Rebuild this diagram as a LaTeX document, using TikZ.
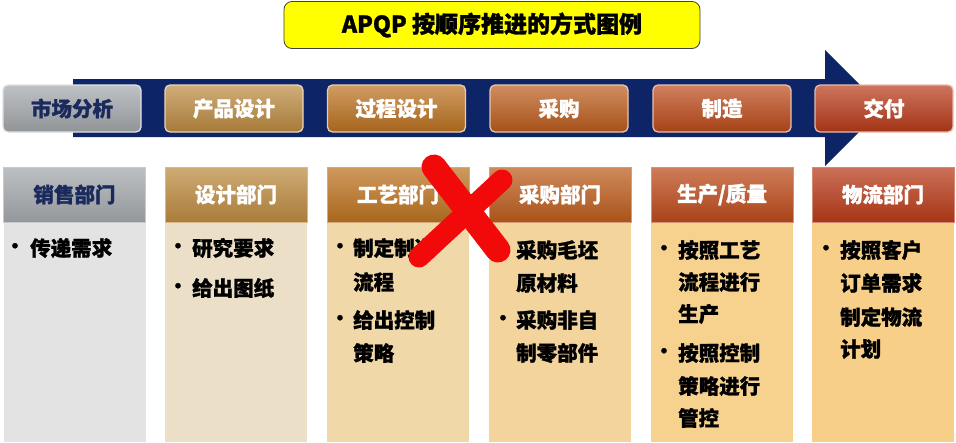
\documentclass[tikz,border=0pt]{standalone}
\usepackage{fontspec}
\setmainfont{Noto Sans CJK SC}[BoldFeatures={FakeBold=1.2}]
\definecolor{navyband}{HTML}{0D2466}
\definecolor{navytext}{HTML}{1A2A5C}
\definecolor{cgray}{HTML}{A4A8AC}
\definecolor{cgold}{HTML}{BC8A40}
\definecolor{cocher}{HTML}{BC7220}
\definecolor{corange}{HTML}{BC5C1C}
\definecolor{crust}{HTML}{BC4A1A}
\definecolor{cred}{HTML}{B83A18}
\definecolor{pgray}{HTML}{E3E3E3}
\definecolor{pbeige}{HTML}{ECDFC7}
\definecolor{psand}{HTML}{F0D8A8}
\definecolor{pwheat}{HTML}{F2D49C}
\definecolor{papricot}{HTML}{F7D18E}
\definecolor{ppeach}{HTML}{F8CF88}
\definecolor{titleyellow}{HTML}{FFFF00}
\definecolor{xred}{HTML}{F20A0A}
\tikzset{
  topbox/.style={rounded corners=5pt, draw=#1!35!white, line width=1.3pt,
    top color=#1!70!white, bottom color=#1!88!black,
    minimum width=138pt, minimum height=47pt, inner sep=0pt,
    text=white, font=\bfseries\fontsize{20.5}{24}\selectfont},
  hdrbox/.style={draw=#1!60!white, line width=0.6pt,
    top color=#1!72!white, bottom color=#1!90!black,
    minimum width=142pt, minimum height=55pt, inner sep=0pt,
    text=white, font=\bfseries\fontsize{20.5}{24}\selectfont},
  panelbox/.style={fill=#1, draw=none, minimum width=142pt, minimum height=220pt, inner sep=0pt},
  bodytext/.style={anchor=west, inner sep=0pt, text=black, font=\bfseries\fontsize{20.5}{24}\selectfont},
  bulletmark/.style={anchor=center, inner sep=0pt, text=black, font=\bfseries\fontsize{19}{20}\selectfont},
  titlebox/.style={rounded corners=8pt, draw=black!75, line width=0.8pt, fill=titleyellow,
    minimum width=416pt, minimum height=47pt, inner sep=0pt,
    font=\bfseries\fontsize{23}{26}\selectfont},
  xstroke/.style={draw=xred, line cap=round, line join=round}
}
\begin{document}
\begin{tikzpicture}[x=1pt,y=-1pt]
\useasboundingbox (0,0) rectangle (956,442);
\fill[white] (0,0) rectangle (956,442);

% title
\node[titlebox] (title) at (492,25) {APQP 按顺序推进的方式图例};

% arrow band
\fill[navyband] (73,79) -- (825,79) -- (825,50) -- (883,108) -- (825,166) -- (825,137) -- (73,137) -- cycle;

% top process boxes
\node[topbox=cgray, text=navytext] (p1) at (72,108.5) {市场分析};
\node[topbox=cgold] (p2) at (234,108.5) {产品设计};
\node[topbox=cocher] (p3) at (396.5,108.5) {过程设计};
\node[topbox=corange] (p4) at (559,108.5) {采购};
\node[topbox=crust] (p5) at (722,108.5) {制造};
\node[topbox=cred] (p6) at (884,108.5) {交付};

% panels
\node[panelbox=pgray] (q1) at (74.5,332) {};
\node[panelbox=pbeige] (q2) at (236,332) {};
\node[panelbox=psand] (q3) at (398,332) {};
\node[panelbox=pwheat] (q4) at (560,332) {};
\node[panelbox=papricot] (q5) at (722,332) {};
\node[panelbox=ppeach] (q6) at (883,332) {};

% department headers
\node[hdrbox=cgray, text=navytext] (d1) at (74.5,194.5) {销售部门};
\node[hdrbox=cgold] (d2) at (236,194.5) {设计部门};
\node[hdrbox=cocher] (d3) at (398,194.5) {工艺部门};
\node[hdrbox=corange] (d4) at (560,194.5) {采购部门};
\node[hdrbox=crust] (d5) at (722,194.5) {生产/质量};
\node[hdrbox=cred] (d6) at (883,194.5) {物流部门};

% column 1
\node[bulletmark] (b11) at (15,248) {•};
\node[bodytext] (t11) at (30,248) {传递需求};
% column 2
\node[bulletmark] (b21) at (178,248) {•};
\node[bodytext] (t21) at (192,248) {研究要求};
\node[bulletmark] (b22) at (178,288) {•};
\node[bodytext] (t22) at (192,288) {给出图纸};
% column 3
\node[bulletmark] (b31) at (340,248) {•};
\node[bodytext] (t31) at (353,248) {制定制造};
\node[bodytext] (t32) at (353,282) {流程};
\node[bulletmark] (b33) at (340,320) {•};
\node[bodytext] (t33) at (353,320) {给出控制};
\node[bodytext] (t34) at (353,353) {策略};
% column 4
\node[bulletmark] (b41) at (503,250) {•};
\node[bodytext] (t41) at (516,250) {采购毛坯};
\node[bodytext] (t42) at (516,283) {原材料};
\node[bulletmark] (b43) at (503,320) {•};
\node[bodytext] (t43) at (516,320) {采购非自};
\node[bodytext] (t44) at (516,353) {制零部件};
% column 5
\node[bulletmark] (b51) at (664,250) {•};
\node[bodytext] (t51) at (678,250) {按照工艺};
\node[bodytext] (t52) at (678,282) {流程进行};
\node[bodytext] (t53) at (678,314) {生产};
\node[bulletmark] (b54) at (664,353) {•};
\node[bodytext] (t54) at (678,353) {按照控制};
\node[bodytext] (t55) at (678,386) {策略进行};
\node[bodytext] (t56) at (678,418) {管控};
% column 6
\node[bulletmark] (b61) at (826,250) {•};
\node[bodytext] (t61) at (840,250) {按照客户};
\node[bodytext] (t62) at (840,283) {订单需求};
\node[bodytext] (t63) at (840,317) {制定物流};
\node[bodytext] (t64) at (840,349) {计划};

% red cross
\coordinate (xa1) at (434,167);
\coordinate (xa2) at (498,250);
\coordinate (xb1) at (502,180);
\coordinate (xb2) at (419,257);
\draw[xstroke, line width=25pt] (xa1) -- (xa2);
\draw[xstroke, line width=21pt] (xb1) -- (xb2);
\end{tikzpicture}
\end{document}
